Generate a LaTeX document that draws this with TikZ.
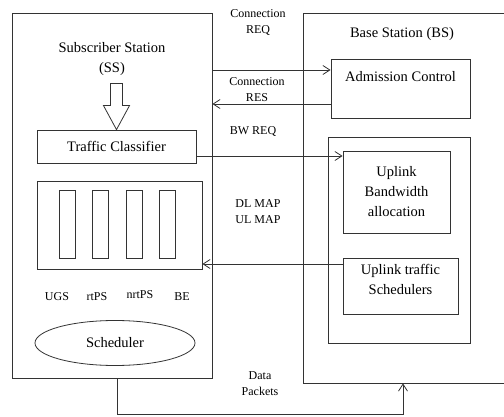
\documentclass[tikz,border=0pt]{standalone}
\usepackage{fontspec}
\setmainfont{Liberation Serif}
\usetikzlibrary{arrows.meta,shapes.geometric}
\tikzset{
  box/.style     = {draw=black!80, line width=0.8pt, inner sep=0pt},
  bar/.style     = {box, minimum width=16pt, minimum height=68pt},
  big/.style     = {font=\fontsize{14.5}{20}\selectfont, align=center, inner sep=0pt},
  small/.style   = {font=\fontsize{12}{16}\selectfont, align=center, inner sep=0pt},
  conn/.style    = {draw=black!80, line width=0.8pt,
                    -{Straight Barb[length=7pt,width=9pt]}},
  hollow/.style  = {draw=black!80, line width=0.8pt, fill=white}
}
\begin{document}
\begin{tikzpicture}[x=1pt,y=-1pt]
  \useasboundingbox (0,0) rectangle (504,417);

  % The two stations (BS runs off the right edge).
  \node[box, minimum width=200pt, minimum height=365pt] (ss) at (112,195.5) {};
  \node[box, minimum width=207pt, minimum height=370pt] (bs) at (406.5,198) {};
  \node[big] (sslbl) at (112,59) {Subscriber Station\\(SS)};
  \node[big] (bslbl) at (402,34) {Base Station (BS)};

  % Subscriber station side.
  \node[box, big, minimum width=159pt, minimum height=33pt] (tc) at (116.5,146.5) {Traffic Classifier};
  \node[box, minimum width=165pt, minimum height=88pt] (queue) at (119.5,225) {};
  \node[bar] (q1) at (67,224) {};
  \node[bar] (q2) at (100,224) {};
  \node[bar] (q3) at (134,224) {};
  \node[bar] (q4) at (167,224) {};
  \node[small] (ugs)   at (57,297)  {UGS};
  \node[small] (rtps)  at (97,297)  {rtPS};
  \node[small] (nrtps) at (140,295) {nrtPS};
  \node[small] (be)    at (182,297) {BE};
  \node[box, big, ellipse, minimum width=160pt, minimum height=45pt] (sched) at (115,343) {Scheduler};

  % Hollow arrow from the SS title into the classifier.
  \draw[hollow] (tc.north) -- ++(-13,-24) -- ++(7,0) -- ++(0,-22) -- ++(12,0)
    -- ++(0,22) -- ++(7,0) -- cycle;

  % Base station side.
  \node[box, minimum width=139pt, minimum height=59pt,
        label={[big, anchor=north, yshift=-13pt]north:Admission Control}] (adm) at (400.5,88.5) {};
  \node[box, minimum width=142pt, minimum height=206pt] (ul) at (399,240) {};
  \node[box, big, minimum width=107pt, minimum height=82pt] (bwa) at (396.5,192) {Uplink\\Bandwidth\\allocation};
  \node[box, minimum width=115pt, minimum height=56pt,
        label={[big, anchor=north, yshift=-6pt]north:{Uplink traffic\\Schedulers}}] (uts) at (400.5,286) {};

  % Rows of the message arrows.
  \coordinate (rq) at (0,70);
  \coordinate (rs) at (0,104);
  \coordinate (bw) at (0,156);
  \coordinate (mp) at (0,264);
  \coordinate (dpl) at (117,414);
  \coordinate (dpr) at (403,414);

  % Messages between SS and BS.
  \draw[conn] (ss.east |- rq) -- (adm.west |- rq);
  \draw[conn] (adm.west |- rs) -- (ss.east |- rs);
  \draw[conn] (tc.east |- bw) -- (bwa.west |- bw);
  \draw[conn] (uts.west |- mp) -- (queue.east |- mp);
  \draw[conn] (ss.south -| dpl) -- (dpl) -- (dpr) -- (bs.south -| dpr);

  % Message labels.
  \node[small] (reqlbl) at (258,23)  {Connection\\REQ};
  \node[small] (reslbl) at (257,90)  {Connection\\RES};
  \node[small] (bwlbl)  at (253,132) {BW REQ};
  \node[small] (maplbl) at (258,212) {DL MAP\\UL MAP};
  \node[small] (dplbl)  at (260,384) {Data\\Packets};

\end{tikzpicture}
\end{document}
